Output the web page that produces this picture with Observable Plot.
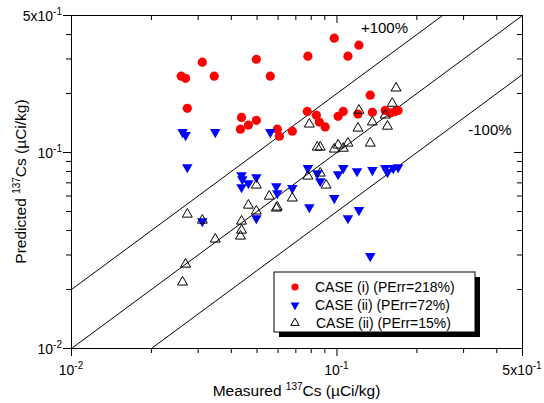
<!DOCTYPE html>
<html><head><meta charset="utf-8">
<script src="https://cdn.jsdelivr.net/npm/d3@7"></script>
<script src="https://cdn.jsdelivr.net/npm/@observablehq/plot@0.6"></script>
<style>
body{margin:0;background:#fff;}
#chart{position:relative;width:544px;height:403px;}
svg{display:block;}
</style></head><body><div id="chart"></div>
<script>
// ---- data ----
const caseIMeasured = [0.0259,0.0269,0.0311,0.0345,0.0497,0.0561,0.0777,0.0977,0.110,0.121,0.1335,0.0273,0.0773,0.0836,0.101,0.1056,0.120,0.136,0.152,0.159,0.1657,0.170,0.0437,0.0497,0.0433,0.0464,0.0596,0.0607,0.0679,0.0858,0.0903];
const caseIPredicted = [0.245,0.239,0.289,0.245,0.299,0.245,0.310,0.383,0.310,0.353,0.196,0.168,0.162,0.155,0.153,0.162,0.157,0.1605,0.164,0.159,0.162,0.164,0.151,0.146,0.1315,0.138,0.1315,0.121,0.1285,0.143,0.135];

const caseIIMeasured = [0.0262,0.0269,0.0348,0.0561,0.0273,0.0437,0.0440,0.0497,0.0464,0.0437,0.0591,0.0596,0.0679,0.0497,0.0311,0.0777,0.0843,0.0865,0.101,0.1056,0.119,0.136,0.152,0.155,0.163,0.170,0.0977,0.0787,0.110,0.121,0.1335];
const caseIIPredicted = [0.127,0.1226,0.127,0.127,0.0841,0.0766,0.0731,0.0748,0.0697,0.0665,0.0673,0.0620,0.0658,0.0462,0.0446,0.0832,0.0784,0.0714,0.0775,0.0832,0.0803,0.0813,0.0832,0.0794,0.0832,0.0841,0.0585,0.0526,0.0462,0.0508,0.0296];

const caseIIbMeasured = [0.167,0.1615,0.121,0.152,0.0787,0.120,0.136,0.155,0.0843,0.0865,0.0977,0.101,0.1056,0.110,0.1335,0.0865,0.0777,0.091,0.0497,0.0556,0.0679,0.0464,0.0596,0.0591,0.0497,0.0273,0.0311,0.0437,0.0437,0.0433,0.0348,0.0269,0.0262];
const caseIIbPredicted = [0.213,0.178,0.164,0.155,0.1395,0.133,0.143,0.136,0.1064,0.1064,0.104,0.109,0.105,0.1115,0.1115,0.0784,0.0757,0.0681,0.0681,0.0598,0.0585,0.0538,0.0526,0.052,0.0502,0.0484,0.0451,0.0446,0.0401,0.0374,0.0361,0.0269,0.0218];

const seriesNames = ["CASE (i) (PErr=218%)","CASE (ii) (PErr=72%)","CASE (ii) (PErr=15%)"];

const axisDomain = [0.01, 0.5];
const majorTicks = [0.01, 0.1, 0.5];
const majorTickBase = ["10","10","5x10"];
const majorTickExp = ["-2","-1","-1"];
const minorTicks = [0.02,0.03,0.04,0.05,0.06,0.07,0.08,0.09,0.2,0.3,0.4];

const refRatios = [2, 1, 0.5];          // predicted / measured reference lines
const refLabelText = ["+100%","-100%"];
const refLabelX = [0.151, 0.377];
const refLabelY = [0.43, 0.130];

const xTitleMain = ["Measured ","137","Cs (\u00b5Ci/kg)"];
const yTitleMain = ["Predicted ","137","Cs (\u00b5Ci/kg)"];

// ---- layout ----
const W = 544, H = 403, mL = 71, mR = 22, mT = 15, mB = 55;
const frameW = W - mL - mR, frameH = H - mT - mB;
const fontFamily = "'Liberation Sans', Arial, Helvetica, sans-serif";

const toRows = (xs, ys) => xs.map((x, i) => ({x, y: ys[i]}));
const caseI = toRows(caseIMeasured, caseIPredicted);
const caseII = toRows(caseIIMeasured, caseIIPredicted);
const caseIIb = toRows(caseIIbMeasured, caseIIbPredicted);

const sqrt3 = Math.sqrt(3);
const downTriangle = {
  draw(context, size) {
    const y = Math.sqrt(size / (sqrt3 * 3));
    context.moveTo(0, 2 * y);
    context.lineTo(-sqrt3 * y, -y);
    context.lineTo(sqrt3 * y, -y);
    context.closePath();
  }
};

const chart = Plot.plot({
  width: W, height: H,
  marginLeft: mL, marginRight: mR, marginTop: mT, marginBottom: mB,
  x: {type: "log", domain: axisDomain},
  y: {type: "log", domain: axisDomain},
  style: {fontFamily, fontSize: "14px", color: "black", background: "white"},
  marks: [
    Plot.link(refRatios, {
      x1: () => axisDomain[0], y1: k => axisDomain[0] * k,
      x2: () => axisDomain[1], y2: k => axisDomain[1] * k,
      stroke: "black", strokeWidth: 1, clip: true
    }),
    Plot.text(refLabelText, {x: (d, i) => refLabelX[i], y: (d, i) => refLabelY[i], text: d => d, fontSize: 15, fill: "black"}),
    Plot.dot(caseI, {x: "x", y: "y", r: 4.6, fill: "#ff0000", symbol: "circle"}),
    Plot.dot(caseII, {x: "x", y: "y", r: 3.9, fill: "#0000ff", symbol: downTriangle}),
    Plot.dot(caseIIb, {x: "x", y: "y", r: 3.7, fill: "none", stroke: "black", strokeWidth: 1, symbol: "triangle"}),
    Plot.frame({stroke: "black", strokeWidth: 1}),
    // outward ticks on bottom & left
    Plot.axisX({ticks: majorTicks, tickSize: 8, tickFormat: () => "", label: null}),
    Plot.axisX({ticks: minorTicks, tickSize: 5, tickFormat: () => "", label: null}),
    Plot.axisY({ticks: majorTicks, tickSize: 8, tickFormat: () => "", label: null}),
    Plot.axisY({ticks: minorTicks, tickSize: 5, tickFormat: () => "", label: null}),
    // inward ticks on top & right
    Plot.tickX(majorTicks, {x: d => d, insetBottom: frameH - 8, stroke: "black"}),
    Plot.tickX(minorTicks, {x: d => d, insetBottom: frameH - 5, stroke: "black"}),
    Plot.tickY(majorTicks, {y: d => d, insetLeft: frameW - 8, stroke: "black"}),
    Plot.tickY(minorTicks, {y: d => d, insetLeft: frameW - 5, stroke: "black"})
  ]
});

document.getElementById("chart").appendChild(chart);

const sx = chart.scale("x"), sy = chart.scale("y");
const svg = d3.select(chart);

// tick labels with superscripts
const lab = svg.append("g").attr("font-family", fontFamily).attr("font-size", 14).attr("fill", "black");
majorTicks.forEach((v, i) => {
  const t = lab.append("text").attr("x", sx.apply(v)).attr("y", mT + frameH + 27).attr("text-anchor", "middle");
  t.append("tspan").text(majorTickBase[i]);
  t.append("tspan").attr("dy", -6).attr("font-size", 10).text(majorTickExp[i]);
});
majorTicks.forEach((v, i) => {
  const t = lab.append("text").attr("x", mL - 9).attr("y", sy.apply(v) + 6).attr("text-anchor", "end");
  t.append("tspan").text(majorTickBase[i]);
  t.append("tspan").attr("dy", -6).attr("font-size", 10).text(majorTickExp[i]);
});

// axis titles
const xt = lab.append("text").attr("x", mL + frameW / 2).attr("y", 396).attr("text-anchor", "middle").attr("font-size", 15.5);
xt.append("tspan").text(xTitleMain[0]);
xt.append("tspan").attr("dy", -6).attr("font-size", 10).text(xTitleMain[1]);
xt.append("tspan").attr("dy", 6).text(xTitleMain[2]);

const yt = lab.append("text").attr("transform", `translate(26,${mT + frameH / 2}) rotate(-90)`).attr("text-anchor", "middle").attr("font-size", 15.5);
yt.append("tspan").text(yTitleMain[0]);
yt.append("tspan").attr("dy", -6).attr("font-size", 10).text(yTitleMain[1]);
yt.append("tspan").attr("dy", 6).text(yTitleMain[2]);

// legend box with shadow
const lg = svg.append("g").attr("font-family", fontFamily).attr("font-size", 14).attr("text-anchor", "start");
const lx = 274, ly = 272, lw = 201, lh = 60;
lg.append("rect").attr("x", lx + 5).attr("y", ly + 5).attr("width", lw).attr("height", lh).attr("fill", "black");
lg.append("rect").attr("x", lx).attr("y", ly).attr("width", lw).attr("height", lh).attr("fill", "white").attr("stroke", "black");
const legendSymbols = [
  {sym: d3.symbolCircle, size: Math.PI * 3.6 * 3.6, fill: "#ff0000", stroke: "none"},
  {sym: downTriangle, size: Math.PI * 3.3 * 3.3, fill: "#0000ff", stroke: "none"},
  {sym: d3.symbolTriangle, size: Math.PI * 3.1 * 3.1, fill: "none", stroke: "black"}
];
const rowY = [287, 305, 323];
seriesNames.forEach((name, i) => {
  const s = legendSymbols[i];
  lg.append("path").attr("d", d3.symbol(s.sym, s.size)()).attr("transform", `translate(${lx + 21},${rowY[i]})`)
    .attr("fill", s.fill).attr("stroke", s.stroke);
  lg.append("text").attr("x", lx + 41 + (i === 2 ? 1 : 0)).attr("y", rowY[i] + 5).attr("text-anchor", "start").attr("fill", "black").text(name);
});
</script>
</body></html>
